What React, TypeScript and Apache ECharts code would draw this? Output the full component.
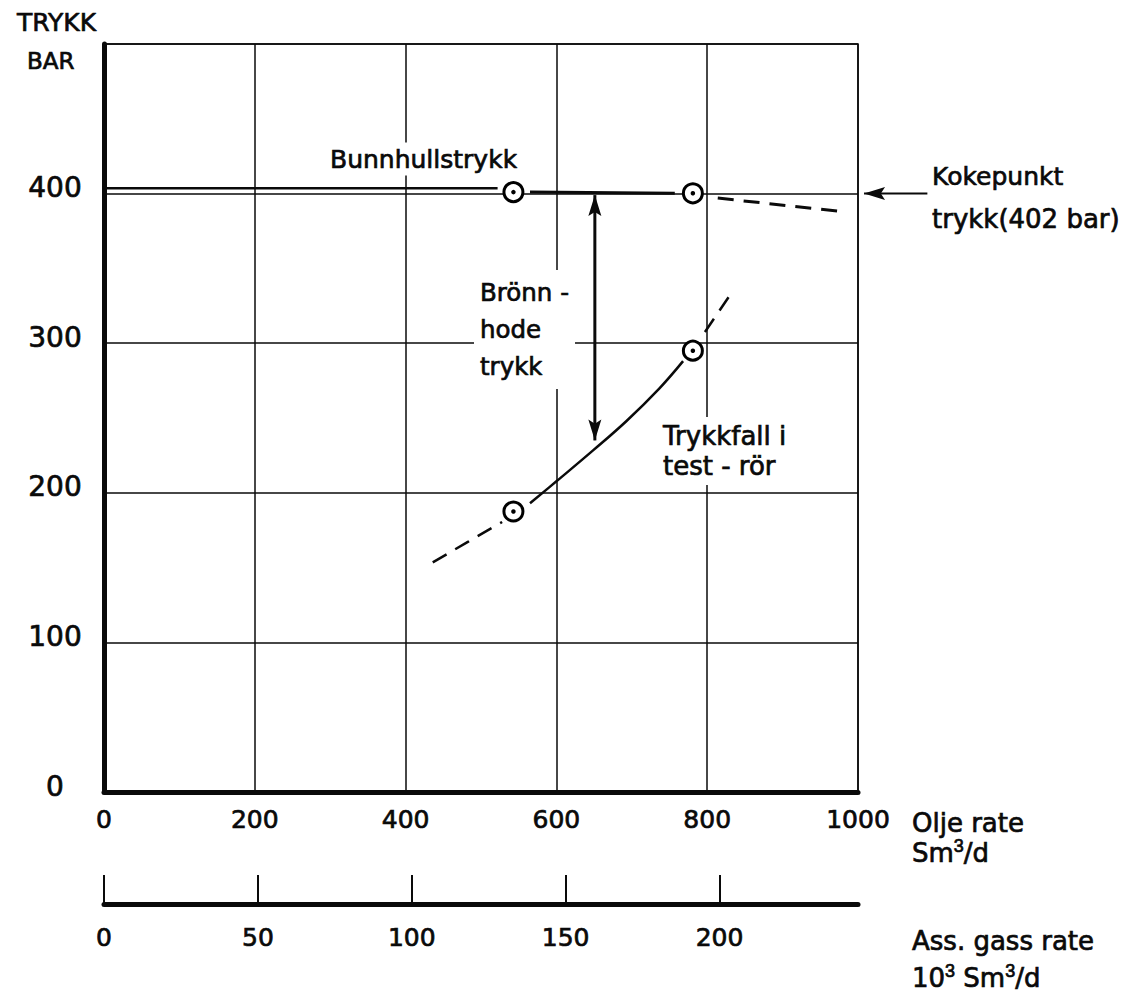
import React, { useEffect, useRef } from "react";
import * as echarts from "echarts";

// ---- data ----
const gasTicks = [0, 50, 100, 150, 200];
const testRates = [543, 781]; // oil rate, Sm3/d
const bottomholeAtTest = [401, 400.2]; // bar
const wellheadAtTest = [187.5, 295]; // bar
const bubbleLine = [[0, 403.5], [522, 403.5]];
const flowLine = [[565, 401], [757, 400.2]];
const flowLineExtrap = [[814, 397], [979, 388]];
const dropCurve = [[565, 193], [602, 208.5], [649, 228.5], [693, 248], [737, 270], [768, 288]];
const dropLow = [[436, 153.5], [482, 167], [528, 180.5]];
const dropHigh = [[797, 307.5], [830, 332]];
// [x1, y1, x2, y2, bothHeads]
const arrows = [
  [1092, 400, 1008, 400, 0],
  [651, 235, 651, 399, 1],
];

const INK = "#0a0a0a";
const FONT = "'DejaVu Sans', sans-serif";
const EMB = 0.7; // stroke to thicken glyphs

function txt(text: string, x: number, y: number, size: number, extra: any = {}) {
  return {
    type: "text",
    x,
    y,
    z: 100,
    style: {
      text,
      fill: INK,
      stroke: INK,
      lineWidth: EMB,
      fontSize: size,
      fontFamily: FONT,
      align: "left",
      verticalAlign: "middle",
      ...extra,
    },
  };
}

const supRich = {
  s: { fontSize: 18, lineHeight: 18, verticalAlign: "top", fill: INK, stroke: INK, lineWidth: EMB },
};

export default function App() {
  const ref = useRef<HTMLDivElement>(null);
  useEffect(() => {
    if (!ref.current) return;
    const chart = echarts.init(ref.current, undefined, { renderer: "svg" });
    const lineSeries = (data: number[][], width: number, dashed = false, smooth: any = false) => ({
      type: "line",
      data,
      smooth,
      symbol: "none",
      z: 3,
      lineStyle: { color: INK, width, type: dashed ? [16, 10] : "solid" },
      silent: true,
    });
    const labelBase = {
      color: INK,
      fontFamily: FONT,
      textBorderColor: INK,
      textBorderWidth: EMB,
    };
    const points = [
      ...testRates.map((x, i) => [x, bottomholeAtTest[i]]),
      ...testRates.map((x, i) => [x, wellheadAtTest[i]]),
    ];
    const option: any = {
      animation: false,
      backgroundColor: "#fff",
      grid: {
        left: 104,
        top: 44,
        width: 754,
        height: 748,
        show: true,
        borderColor: INK,
        borderWidth: 1.5,
        backgroundColor: "transparent",
      },
      xAxis: [
        {
          type: "value",
          min: 0,
          max: 1000,
          interval: 200,
          position: "bottom",
          axisLine: { show: true, onZero: false, lineStyle: { color: INK, width: 5 } },
          axisTick: { show: false },
          axisLabel: { ...labelBase, fontSize: 25, margin: 15, formatter: (v: number) => String(v) },
          splitLine: { show: true, lineStyle: { color: INK, width: 1.5 } },
        },
        {
          type: "value",
          min: 0,
          max: 245,
          position: "bottom",
          offset: 112,
          axisLine: { show: true, onZero: false, lineStyle: { color: INK, width: 5 } },
          axisTick: {
            show: true,
            inside: true,
            length: 29,
            customValues: gasTicks,
            lineStyle: { color: INK, width: 2 },
          },
          axisLabel: {
            ...labelBase,
            customValues: gasTicks,
            fontSize: 25,
            margin: 21,
            formatter: (v: number) => String(v),
          },
          splitLine: { show: false },
        },
      ],
      yAxis: {
        type: "value",
        min: 0,
        max: 500,
        interval: 100,
        axisLine: { show: true, onZero: false, lineStyle: { color: INK, width: 5 } },
        axisTick: { show: false },
        axisLabel: {
          ...labelBase,
          showMaxLabel: false,
          align: "center",
          verticalAlign: "bottom",
          lineHeight: 12,
          margin: 49,
          fontSize: 28,
        },
        splitLine: { show: true, lineStyle: { color: INK, width: 1.5 } },
      },
      series: [
        lineSeries(bubbleLine, 2.5),
        lineSeries(flowLine, 3),
        lineSeries(flowLineExtrap, 3, true),
        lineSeries(dropCurve, 2.5, false, 0.4),
        lineSeries(dropLow, 2.5, true),
        lineSeries(dropHigh, 2.5, true),
        {
          type: "custom",
          data: arrows,
          z: 4,
          silent: true,
          renderItem: (params: any, api: any) => {
            const a = api.coord([api.value(0), api.value(1)]);
            const b = api.coord([api.value(2), api.value(3)]);
            const both = api.value(4) === 1;
            const dx = b[0] - a[0];
            const dy = b[1] - a[1];
            const len = Math.hypot(dx, dy) || 1;
            const ux = dx / len;
            const uy = dy / len;
            const px = -uy;
            const py = ux;
            const L = 21;
            const W = 6.5;
            const head = (tip: number[], s: number) => ({
              type: "polygon",
              shape: {
                points: [
                  [tip[0], tip[1]],
                  [tip[0] - s * ux * L + px * W, tip[1] - s * uy * L + py * W],
                  [tip[0] - s * ux * L * 0.8, tip[1] - s * uy * L * 0.8],
                  [tip[0] - s * ux * L - px * W, tip[1] - s * uy * L - py * W],
                ],
              },
              style: { fill: INK },
            });
            const children: any[] = [
              {
                type: "line",
                shape: { x1: a[0], y1: a[1], x2: b[0], y2: b[1] },
                style: { stroke: INK, lineWidth: both ? 3 : 2 },
              },
              head(b, 1),
            ];
            if (both) children.push(head(a, -1));
            return { type: "group", children };
          },
        },
        {
          type: "scatter",
          data: points,
          symbol: "circle",
          symbolSize: 19,
          z: 5,
          silent: true,
          itemStyle: { color: "#fff", borderColor: "#000", borderWidth: 3, opacity: 1 },
        },
        {
          type: "scatter",
          data: points,
          symbol: "circle",
          symbolSize: 4.5,
          z: 6,
          silent: true,
          itemStyle: { color: "#000", opacity: 1 },
        },
      ],
      graphic: [
        txt("TRYKK", 17, 22, 25),
        txt("BAR", 27, 61, 23),
        txt("Bunnhullstrykk", 326, 159, 25, { backgroundColor: "#fff", padding: [4, 4] }),
        txt("Brönn -\nhode\ntrykk", 474, 270, 24.5, {
          verticalAlign: "top",
          lineHeight: 37,
          backgroundColor: "#fff",
          padding: [4, 6],
        }),
        txt("Trykkfall i\ntest - rör", 658, 417, 26, {
          verticalAlign: "top",
          lineHeight: 30,
          backgroundColor: "#fff",
          padding: [4, 5],
        }),
        txt("Kokepunkt", 932, 176, 25),
        txt("trykk(402 bar)", 932, 219, 26),
        txt("Olje rate", 912, 823, 26),
        txt("Sm{s|3}/d", 912, 853, 26, { lineHeight: 32, rich: supRich }),
        txt("Ass. gass rate", 912, 941, 26),
        txt("10{s|3} Sm{s|3}/d", 912, 978, 26, { lineHeight: 32, rich: supRich }),
      ],
    };
    chart.setOption(option);
    return () => chart.dispose();
  }, []);
  return <div ref={ref} style={{ width: 1137, height: 1001, position: "absolute", left: 0, top: 0 }} />;
}
